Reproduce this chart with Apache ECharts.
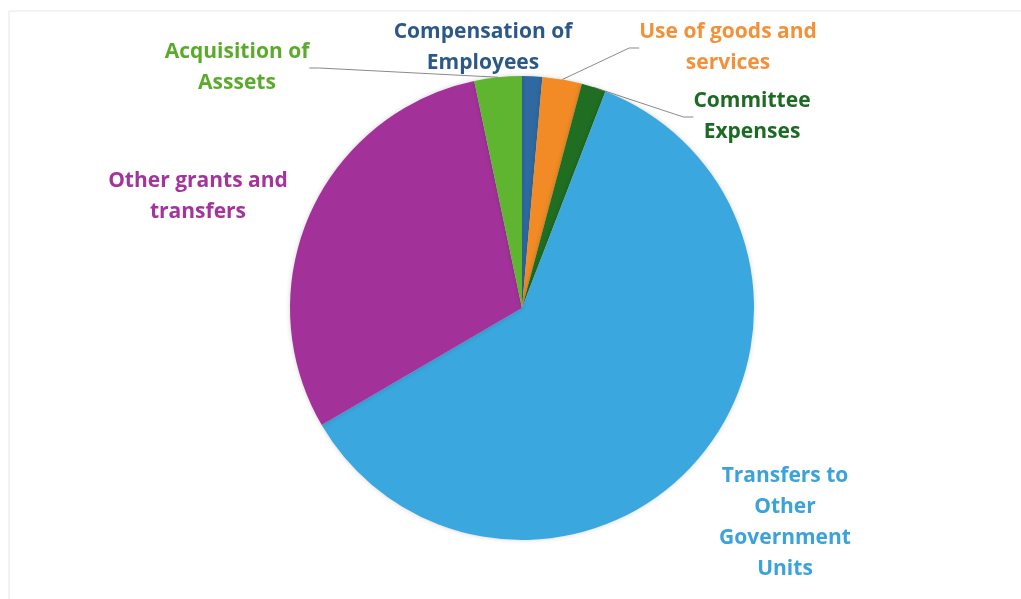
<!DOCTYPE html>
<html>
<head>
<meta charset="utf-8">
<script src="https://cdn.jsdelivr.net/npm/echarts@6/dist/echarts.min.js"></script>
<style>
html,body{margin:0;padding:0;background:#fff;}
#c{width:1021px;height:599px;}
</style>
</head>
<body>
<div id="c"></div>
<script>
// Data
const categories = [
  'Compensation of\nEmployees',
  'Use of goods and\nservices',
  'Committee\nExpenses',
  'Transfers to\nOther\nGovernment\nUnits',
  'Other grants and\ntransfers',
  'Acquisition of\nAsssets'
];
const values = [1.4, 2.75, 1.7, 60.7, 30.1, 3.3];

// Styles
const sliceColors = ['#2e6aa1', '#f28b25', '#1f6e22', '#3aa7de', '#a2329a', '#5fb52f'];
const textColors  = ['#2b5887', '#f3913a', '#1d6a24', '#3ba2da', '#a3349b', '#5aab2c'];
const showLine    = [false, true, true, false, false, true];
const labelPos = [
  [483, 48],
  [728, 48],
  [752, 117],
  [785, 523],
  [198, 197],
  [237, 68]
];

const chart = echarts.init(document.getElementById('c'), null, {renderer: 'canvas'});
const data = categories.map((n, i) => ({
  name: n,
  value: values[i],
  itemStyle: {color: sliceColors[i]},
  label: {color: textColors[i]},
  labelLine: {show: showLine[i]}
}));

chart.setOption({
  animation: false,
  graphic: [{
    type: 'rect',
    shape: {x: 9, y: 11, width: 1030, height: 620},
    style: {fill: 'none', stroke: '#e6e6e6', lineWidth: 1},
    silent: true,
    z: -1
  }],
  series: [{
    type: 'pie',
    center: [522, 308],
    radius: 232,
    startAngle: 90,
    clockwise: true,
    avoidLabelOverlap: false,
    itemStyle: {
      borderWidth: 0,
      shadowBlur: 5,
      shadowColor: 'rgba(0,0,0,0.18)'
    },
    label: {
      show: true,
      position: 'outside',
      fontFamily: 'Open Sans',
      fontWeight: 'bold',
      fontSize: 21,
      lineHeight: 31,
      align: 'center'
    },
    labelLine: {
      show: true,
      length: 20,
      length2: 10,
      lineStyle: {color: '#8a8a8a', width: 1}
    },
    labelLayout: function (p) {
      const pos = labelPos[p.dataIndex];
      return {
        x: pos[0],
        y: pos[1],
        align: 'center',
        verticalAlign: 'middle'
      };
    },
    data: data
  }]
});
</script>
</body>
</html>
